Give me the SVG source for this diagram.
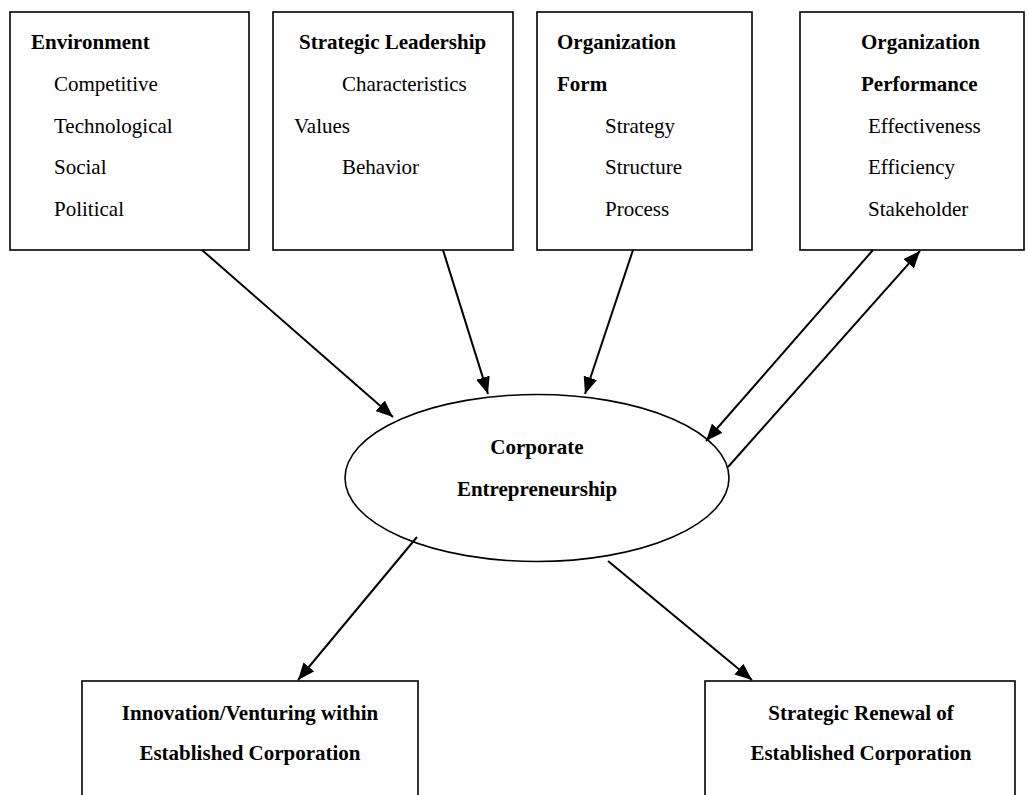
<svg xmlns="http://www.w3.org/2000/svg" width="1029" height="795" viewBox="0 0 1029 795">
<style>
.box{fill:#fff;stroke:#000;stroke-width:1.6}
.t{font-family:"Liberation Serif","Times New Roman",serif;font-size:21px;fill:#000}
.b{font-weight:bold}
.c{text-anchor:middle}
.ln{stroke:#000;stroke-width:2;fill:none;marker-end:url(#ah)}
</style>
<defs>
<marker id="ah" markerUnits="userSpaceOnUse" markerWidth="18" markerHeight="14" refX="17" refY="7" orient="auto">
<path d="M0,0 L17,7 L0,14 z" fill="#000"/>
</marker>
</defs>
<rect width="1029" height="795" fill="#fff"/>
<g id="environment">
<rect class="box" x="10" y="12" width="239" height="238"/>
<text class="t b" x="31" y="49">Environment</text>
<text class="t" x="54" y="91">Competitive</text>
<text class="t" x="54" y="133">Technological</text>
<text class="t" x="54" y="174">Social</text>
<text class="t" x="54" y="216">Political</text>
</g>
<g id="strategic-leadership">
<rect class="box" x="273" y="12" width="240" height="238"/>
<text class="t b" x="299" y="49">Strategic Leadership</text>
<text class="t" x="342" y="91">Characteristics</text>
<text class="t" x="294" y="133">Values</text>
<text class="t" x="342" y="174">Behavior</text>
</g>
<g id="organization-form">
<rect class="box" x="537" y="12" width="215" height="238"/>
<text class="t b" x="557" y="49">Organization</text>
<text class="t b" x="557" y="91">Form</text>
<text class="t" x="605" y="133">Strategy</text>
<text class="t" x="605" y="174">Structure</text>
<text class="t" x="605" y="216">Process</text>
</g>
<g id="organization-performance">
<rect class="box" x="800" y="12" width="224" height="238"/>
<text class="t b" x="861" y="49">Organization</text>
<text class="t b" x="861" y="91">Performance</text>
<text class="t" x="868" y="133">Effectiveness</text>
<text class="t" x="868" y="174">Efficiency</text>
<text class="t" x="868" y="216">Stakeholder</text>
</g>
<g id="corporate-entrepreneurship">
<ellipse class="box" cx="537" cy="478" rx="192" ry="83.5"/>
<text class="t b c" x="537" y="454">Corporate</text>
<text class="t b c" x="537" y="496">Entrepreneurship</text>
</g>
<g id="innovation">
<rect class="box" x="82" y="681" width="336" height="130"/>
<text class="t b c" x="250" y="720">Innovation/Venturing within</text>
<text class="t b c" x="250" y="760">Established Corporation</text>
</g>
<g id="strategic-renewal">
<rect class="box" x="705" y="681" width="310" height="130"/>
<text class="t b c" x="861" y="720">Strategic Renewal of</text>
<text class="t b c" x="861" y="760">Established Corporation</text>
</g>
<g id="connectors">
<line class="ln" x1="202" y1="250" x2="393" y2="417"/>
<line class="ln" x1="443" y1="250" x2="488" y2="394"/>
<line class="ln" x1="633" y1="250" x2="585" y2="394"/>
<line class="ln" x1="873" y1="250" x2="706" y2="441"/>
<line class="ln" x1="728" y1="467" x2="920" y2="251"/>
<line class="ln" x1="417" y1="537" x2="298" y2="680"/>
<line class="ln" x1="608" y1="561" x2="752" y2="680"/>
</g>
</svg>
